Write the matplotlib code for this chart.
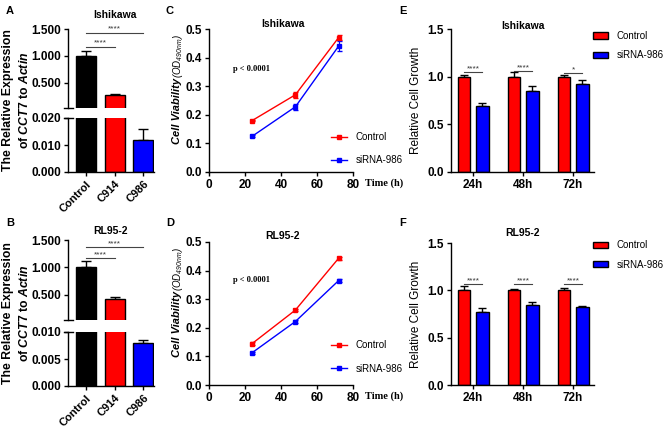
import matplotlib
matplotlib.use("Agg")
import matplotlib.pyplot as plt
from matplotlib.patches import Patch
from matplotlib.lines import Line2D
import numpy as np

# ---------------- data ----------------
expr_groups = ["Control", "C914", "C986"]
ish_expr = [1.0, 0.28, 0.012]
ish_expr_err = [0.10, 0.025, 0.004]
rl_expr = [1.0, 0.43, 0.008]
rl_expr_err = [0.12, 0.03, 0.0005]

time_h = [24, 48, 72]
ish_ctrl = [0.18, 0.27, 0.47]
ish_ctrl_err = [0.003, 0.010, 0.010]
ish_si = [0.125, 0.228, 0.44]
ish_si_err = [0.004, 0.010, 0.018]
rl_ctrl = [0.145, 0.262, 0.443]
rl_ctrl_err = [0.004, 0.003, 0.006]
rl_si = [0.113, 0.222, 0.365]
rl_si_err = [0.004, 0.006, 0.004]

growth_labels = ["24h", "48h", "72h"]
ish_g_ctrl = [1.0, 1.0, 1.0]
ish_g_ctrl_err = [0.02, 0.05, 0.02]
ish_g_si = [0.69, 0.85, 0.92]
ish_g_si_err = [0.035, 0.05, 0.05]
rl_g_ctrl = [1.0, 1.0, 1.0]
rl_g_ctrl_err = [0.05, 0.01, 0.02]
rl_g_si = [0.77, 0.845, 0.82]
rl_g_si_err = [0.04, 0.035, 0.012]
ish_sig = ["****", "****", "*"]
rl_sig = ["****", "****", "****"]

# ---------------- style ----------------
plt.rcParams['font.family'] = ['Liberation Sans', 'DejaVu Sans']
plt.rcParams['mathtext.fontset'] = 'custom'
plt.rcParams['mathtext.it'] = 'Liberation Sans:italic:bold'
plt.rcParams['mathtext.rm'] = 'Liberation Sans:bold'
plt.rcParams['mathtext.bf'] = 'Liberation Sans:bold'
plt.rcParams['mathtext.sf'] = 'Liberation Sans:italic'
plt.rcParams['axes.linewidth'] = 1.0
plt.rcParams['xtick.major.width'] = 1.0
plt.rcParams['ytick.major.width'] = 1.0
plt.rcParams['xtick.major.size'] = 3
plt.rcParams['ytick.major.size'] = 3

W, H = 669, 429
fig = plt.figure(figsize=(W / 100, H / 100), dpi=100)

RED = "#FF0000"
BLUE = "#0000FF"
TICKFS = 8.5


def add_ax(x0, ytop, x1, ybot):
    return fig.add_axes([x0 / W, 1 - ybot / H, (x1 - x0) / W, (ybot - ytop) / H])


def ftext(x, y, s, **kw):
    fig.text(x / W, 1 - y / H, s, **kw)


def style(ax):
    ax.spines['top'].set_visible(False)
    ax.spines['right'].set_visible(False)
    ax.tick_params(labelsize=TICKFS, pad=2)
    for lab in ax.get_xticklabels() + ax.get_yticklabels():
        lab.set_fontweight('bold')


# ---------------- panels A / B : broken-axis bars ----------------
def expr_panel(ytop, ybreak_hi, ybreak_lo, ybot, up_lim, lo_lim, lo_ticks, vals, errs,
               title, title_xy, sig_y, label_y):
    x0, x1 = 68, 154
    ax_up = add_ax(x0, ytop, x1, ybreak_hi)
    ax_lo = add_ax(x0, ybreak_lo, x1, ybot)
    colors = ["black", RED, BLUE]
    xs = np.arange(len(expr_groups))
    vals = np.asarray(vals)
    errs = np.asarray(errs)
    for ax, lim in ((ax_up, up_lim), (ax_lo, lo_lim)):
        show = vals > lim[0]
        ax.bar(xs[show], vals[show], width=0.7, color=[c for c, s in zip(colors, show) if s],
               edgecolor="black", linewidth=1.0, zorder=2)
        ax.errorbar(xs[show], vals[show], yerr=[np.zeros(show.sum()), errs[show]], fmt='none',
                    ecolor='black', elinewidth=1.0, capsize=3.5, capthick=1.0, zorder=1)
        ax.set_xlim(-0.63, 2.38)
        style(ax)
    ax_up.set_ylim(*up_lim)
    ax_up.set_yticks([0.5, 1.0, 1.5])
    ax_up.set_yticklabels(["0.500", "1.000", "1.500"], fontweight='bold')
    ax_up.spines['bottom'].set_visible(False)
    ax_up.set_xticks([])
    ax_lo.set_ylim(*lo_lim)
    ax_lo.set_yticks(lo_ticks)
    ax_lo.set_yticklabels(["%.3f" % t for t in lo_ticks], fontweight='bold')
    ax_lo.set_xticks(xs)
    ax_lo.set_xticklabels(expr_groups, rotation=45, ha='right', rotation_mode='anchor',
                          fontweight='bold', fontsize=8)
    # break marks
    w = x1 - x0
    ax_up.plot([-4.5 / w, 4.5 / w], [0, 0], transform=ax_up.transAxes, color='black',
               lw=1.0, clip_on=False)
    ax_lo.plot([-4.5 / w, 4.5 / w], [1, 1], transform=ax_lo.transAxes, color='black',
               lw=1.0, clip_on=False)
    # significance
    for (xa, xb, yv) in [(0, 2, sig_y[0]), (0, 1, sig_y[1])]:
        ax_up.plot([xa, xb], [yv, yv], color='#444444', lw=0.8, clip_on=False)
        ax_up.text((xa + xb) / 2, yv, "****", ha='center', va='bottom', fontsize=6,
                   color='#333333')
    ftext(title_xy[0], title_xy[1], title, ha='center', va='center', fontsize=7.5,
          fontweight='bold')
    ftext(17, label_y, "The Relative Expression\nof $\\mathit{CCT7}$ to $\\mathit{Actin}$",
          rotation=90, ha='center', va='center', fontsize=8.8, fontweight='bold',
          linespacing=1.4, multialignment='center')


expr_panel(29, 108, 118, 172, (0.037, 1.5), (0, 0.02), [0.0, 0.01, 0.02],
           ish_expr, ish_expr_err, "Ishikawa", (115, 15), (1.43, 1.17), 100)
expr_panel(240, 320, 332, 386, (0.045, 1.5), (0, 0.01), [0.0, 0.005, 0.01],
           rl_expr, rl_expr_err, "RL95-2", (110, 231), (1.37, 1.17), 313)


# ---------------- panels C / D : viability lines ----------------
def line_panel(ytop, ybot, ctrl, ctrl_err, si, si_err, title, title_xy, p_xy, leg_y, lab_y):
    ax = add_ax(209, ytop, 353, ybot)
    ax.errorbar(time_h, ctrl, yerr=ctrl_err, color=RED, marker='s', markersize=2.6,
                lw=1.0, elinewidth=0.8, capsize=1.8, label="Control")
    ax.errorbar(time_h, si, yerr=si_err, color=BLUE, marker='s', markersize=2.6,
                lw=1.0, elinewidth=0.8, capsize=1.8, label="siRNA-986")
    ax.set_xlim(0, 80)
    ax.set_ylim(0, 0.5)
    ax.set_xticks([0, 20, 40, 60, 80])
    ax.set_yticks([0, 0.1, 0.2, 0.3, 0.4, 0.5])
    ax.set_yticklabels(["0.0", "0.1", "0.2", "0.3", "0.4", "0.5"])
    style(ax)
    ax.text(1.085, -0.075, "Time (h)", transform=ax.transAxes, ha='left', va='center',
            fontsize=7.5, fontweight='bold', family=['Liberation Serif', 'DejaVu Serif'])
    ftext(177, lab_y, "Cell Viability", rotation=90, ha='center', va='top',
          fontsize=8, fontweight='bold', style='italic')
    ftext(177.5, lab_y, "$\\mathsf{(OD_{490nm})}$", rotation=90, ha='center', va='bottom',
          fontsize=7)
    ftext(title_xy[0], title_xy[1], title, ha='center', va='center', fontsize=7.5,
          fontweight='bold')
    ftext(p_xy[0], p_xy[1], "p < 0.0001", ha='left', va='center', fontsize=6,
          fontweight='bold', family=['Liberation Serif', 'DejaVu Serif'])
    handles = [Line2D([], [], color=RED, marker='s', markersize=2.6, lw=1.0),
               Line2D([], [], color=BLUE, marker='s', markersize=2.6, lw=1.0)]
    fig.legend(handles, ["Control", "siRNA-986"], loc='center left',
               bbox_to_anchor=(331 / W, 1 - leg_y / H), frameon=False, fontsize=7,
               handlelength=1.65, handletextpad=0.9, labelspacing=1.35,
               borderpad=0, borderaxespad=0)


line_panel(29, 172, ish_ctrl, ish_ctrl_err, ish_si, ish_si_err, "Ishikawa", (283, 24),
           (233, 69), 148.5, 78)
line_panel(242, 385, rl_ctrl, rl_ctrl_err, rl_si, rl_si_err, "RL95-2", (282, 236),
           (233, 280), 357, 291)


# ---------------- panels E / F : growth bars ----------------
def growth_panel(ytop, ybot, ctrl, ctrl_err, si, si_err, sig, sig_y, title, title_xy, leg_y):
    ax = add_ax(451, ytop, 594, ybot)
    xs = np.arange(len(growth_labels))
    off, bw = 0.185, 0.25
    ax.bar(xs - off, ctrl, width=bw, color=RED, edgecolor='black', linewidth=1.0, zorder=2)
    ax.bar(xs + off, si, width=bw, color=BLUE, edgecolor='black', linewidth=1.0, zorder=2)
    ax.errorbar(xs - off, ctrl, yerr=[np.zeros(3), ctrl_err], fmt='none', ecolor='black',
                elinewidth=1.0, capsize=3, capthick=1.0, zorder=1)
    ax.errorbar(xs + off, si, yerr=[np.zeros(3), si_err], fmt='none', ecolor='black',
                elinewidth=1.0, capsize=3, capthick=1.0, zorder=1)
    for i, (s, yv) in enumerate(zip(sig, sig_y)):
        ax.plot([i - off, i + off], [yv, yv], color='#444444', lw=0.8)
        ax.text(i, yv - 0.005, s, ha='center', va='bottom', fontsize=6, color='#333333')
    ax.set_xlim(-0.44, 2.42)
    ax.set_ylim(0, 1.5)
    ax.set_xticks(xs)
    ax.set_xticklabels(growth_labels)
    ax.set_yticks([0, 0.5, 1.0, 1.5])
    ax.set_yticklabels(["0.0", "0.5", "1.0", "1.5"])
    style(ax)
    ax.set_ylabel("Relative Cell Growth", fontsize=8.5, labelpad=4)
    ftext(title_xy[0], title_xy[1], title, ha='center', va='center', fontsize=7.5,
          fontweight='bold')
    handles = [Patch(facecolor=RED, edgecolor='black', linewidth=1.0),
               Patch(facecolor=BLUE, edgecolor='black', linewidth=1.0)]
    fig.legend(handles, ["Control", "siRNA-986"], loc='center left',
               bbox_to_anchor=(593 / W, 1 - leg_y / H), frameon=False, fontsize=7,
               handlelength=1.55, handleheight=0.6, handletextpad=0.9, labelspacing=0.95,
               borderpad=0, borderaxespad=0)


growth_panel(29, 172, ish_g_ctrl, ish_g_ctrl_err, ish_g_si, ish_g_si_err, ish_sig,
             [1.05, 1.06, 1.04], "Ishikawa", (523, 26), 45.5)
growth_panel(243, 385, rl_g_ctrl, rl_g_ctrl_err, rl_g_si, rl_g_si_err, rl_sig,
             [1.07, 1.07, 1.07], "RL95-2", (523, 233), 255)

# ---------------- panel letters ----------------
for letter, (x, y) in {"A": (10, 11), "B": (10, 223), "C": (170, 11), "D": (170, 223),
                       "E": (403, 11), "F": (403, 223)}.items():
    ftext(x, y, letter, ha='center', va='center', fontsize=8, fontweight='bold')

fig.savefig("out.png", dpi=100)
